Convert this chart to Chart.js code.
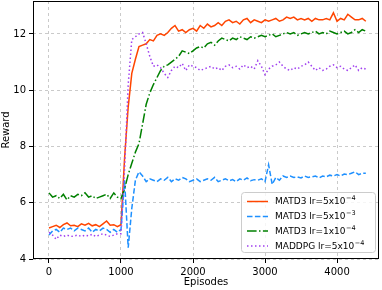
<!DOCTYPE html>
<html>
<head>
<meta charset="utf-8">
<script src="https://cdn.jsdelivr.net/npm/chart.js@4.4.0/dist/chart.umd.min.js"></script>
<style>
html,body{margin:0;padding:0;background:#fff;}
#wrap{width:382px;height:290px;position:relative;}
</style>
</head>
<body>
<div id="wrap"><canvas id="c" width="382" height="290"></canvas></div>
<script>
// Sampling grid: every 50 episodes from 0 to 4400
const episodes = [];
for (let e = 0; e <= 4400; e += 50) episodes.push(e);

const matd3_5e4 = [
5.10,5.15,5.20,5.12,5.22,5.28,5.18,5.20,5.15,5.25,
5.20,5.27,5.18,5.22,5.15,5.25,5.35,5.20,5.22,5.15,
5.22,7.60,9.40,10.60,11.10,11.55,11.60,11.65,11.80,11.75,
11.95,12.00,11.95,12.05,12.20,12.30,12.10,12.15,12.05,12.15,
12.20,12.10,12.30,12.20,12.35,12.25,12.30,12.40,12.30,12.45,
12.50,12.40,12.45,12.35,12.50,12.55,12.40,12.50,12.45,12.40,
12.50,12.45,12.50,12.55,12.45,12.50,12.60,12.55,12.60,12.50,
12.55,12.50,12.55,12.45,12.55,12.50,12.50,12.55,12.50,12.75,
12.45,12.55,12.50,12.70,12.60,12.50,12.50,12.55,12.45
];
const matd3_5e3 = [
4.85,5.00,5.05,4.95,5.10,5.05,5.10,5.00,5.10,5.05,
5.00,5.10,4.95,5.05,5.00,5.10,5.05,4.95,5.05,4.95,
5.05,6.80,4.40,5.80,6.80,7.10,6.95,6.75,6.85,6.80,
6.75,6.85,6.80,6.90,6.75,6.85,6.80,6.90,6.85,6.75,
6.80,6.85,6.75,6.80,6.85,6.80,6.90,6.75,6.80,6.85,
6.78,6.82,6.75,6.85,6.80,6.88,6.78,6.82,6.80,6.85,
6.75,7.35,6.65,6.90,6.80,6.95,6.90,6.95,6.90,6.92,
6.88,6.95,6.90,6.92,6.95,6.88,6.95,6.92,6.98,6.95,
7.00,6.95,7.02,7.00,7.05,7.10,7.00,7.05,7.05
];
const matd3_1e4 = [
6.35,6.20,6.25,6.15,6.30,6.10,6.25,6.20,6.30,6.25,
6.35,6.20,6.25,6.15,6.20,6.25,6.30,6.15,6.35,6.20,
6.15,6.50,7.00,7.40,7.80,8.10,8.80,9.50,9.90,10.20,
10.45,10.70,10.85,10.90,11.00,11.10,11.20,11.40,11.35,11.30,
11.40,11.50,11.55,11.50,11.65,11.70,11.60,11.75,11.85,11.80,
11.75,11.85,11.80,11.90,11.85,11.80,11.90,11.85,11.90,11.95,
11.90,11.95,12.00,11.90,11.95,12.00,12.05,12.00,12.05,11.95,
12.00,12.05,12.00,12.05,12.10,12.00,12.05,12.00,12.10,12.05,
12.00,12.05,12.10,12.00,12.05,12.15,12.05,12.15,12.10
];
const maddpg_5e4 = [
4.95,4.85,4.70,4.85,4.80,4.85,4.80,4.82,4.85,4.80,
4.85,4.82,4.88,4.80,4.85,4.90,4.85,4.80,4.85,4.90,
4.90,7.20,10.20,11.80,11.90,12.00,12.05,11.65,11.20,10.85,
10.90,10.80,10.60,10.45,10.70,10.85,10.80,10.95,10.70,10.90,
10.85,10.80,10.70,10.75,10.80,10.85,10.75,10.80,10.70,10.85,
10.90,10.80,10.85,10.75,10.90,10.80,10.85,10.75,11.05,10.85,
10.55,10.75,10.85,10.90,11.00,10.85,10.75,10.70,10.80,10.75,
10.85,10.90,11.00,10.85,10.70,10.80,10.70,10.75,10.85,10.90,
10.80,10.85,10.75,10.70,10.80,10.90,10.70,10.80,10.75
];
const xTicks = [0, 1000, 2000, 3000, 4000];
const yTicks = [4, 6, 8, 10, 12];
const seriesNames = ['MATD3 lr=5x10', 'MATD3 lr=5x10', 'MATD3 lr=1x10', 'MADDPG lr=5x10'];
const seriesExp = ['\u22124', '\u22123', '\u22124', '\u22124'];

const colors = ['#ff4500', '#1e90ff', '#008000', '#a040f0'];
const dashes = [[], [5.5, 2.4], [9.6, 2.4, 1.5, 2.4], [1.5, 2.5]];
const allSeries = [matd3_5e4, matd3_5e3, matd3_1e4, maddpg_5e4];

const datasets = allSeries.map((s, k) => ({
  label: seriesNames[k] + seriesExp[k],
  data: s.map((v, i) => ({x: episodes[i], y: v})),
  borderColor: colors[k],
  backgroundColor: colors[k],
  borderWidth: 1.5,
  borderDash: dashes[k],
  pointRadius: 0,
  tension: 0,
  fill: false,
  order: 4 - k
}));
const FONT = 'DejaVu Sans';

const framePlugin = {
  id: 'frame',
  afterDraw(chart) {
    const {ctx, chartArea: a} = chart;
    ctx.save();
    ctx.strokeStyle = '#000';
    ctx.lineWidth = 1;
    ctx.setLineDash([]);
    ctx.strokeRect(Math.round(a.left) + 0.5, Math.round(a.top) + 0.5, Math.round(a.right - a.left) - 1, Math.round(a.bottom - a.top) - 1);
    // axis titles
    ctx.fillStyle = '#000';
    ctx.font = '10px "' + FONT + '"';
    ctx.textAlign = 'center';
    ctx.textBaseline = 'alphabetic';
    ctx.fillText('Episodes', (a.left + a.right) / 2, 285);
    ctx.save();
    ctx.translate(9, (a.top + a.bottom) / 2);
    ctx.rotate(-Math.PI / 2);
    ctx.fillText('Reward', 0, 0);
    ctx.restore();
    // legend
    const bx = 241.5, by = 192.5, bw = 134, bh = 60, r = 3;
    ctx.beginPath();
    ctx.moveTo(bx + r, by);
    ctx.lineTo(bx + bw - r, by);
    ctx.quadraticCurveTo(bx + bw, by, bx + bw, by + r);
    ctx.lineTo(bx + bw, by + bh - r);
    ctx.quadraticCurveTo(bx + bw, by + bh, bx + bw - r, by + bh);
    ctx.lineTo(bx + r, by + bh);
    ctx.quadraticCurveTo(bx, by + bh, bx, by + bh - r);
    ctx.lineTo(bx, by + r);
    ctx.quadraticCurveTo(bx, by, bx + r, by);
    ctx.closePath();
    ctx.fillStyle = 'rgba(255,255,255,0.8)';
    ctx.fill();
    ctx.strokeStyle = '#cccccc';
    ctx.lineWidth = 1;
    ctx.stroke();
    const rows = [201.5, 216.5, 231, 246];
    for (let k = 0; k < 4; k++) {
      const y = rows[k];
      ctx.beginPath();
      ctx.strokeStyle = colors[k];
      ctx.lineWidth = 1.5;
      ctx.setLineDash(dashes[k]);
      ctx.moveTo(247, y);
      ctx.lineTo(268, y);
      ctx.stroke();
      ctx.setLineDash([]);
      ctx.fillStyle = '#000';
      ctx.textAlign = 'left';
      ctx.textBaseline = 'middle';
      ctx.font = '9px "' + FONT + '"';
      ctx.fillText(seriesNames[k], 275, y + 0.5);
      const w = ctx.measureText(seriesNames[k]).width;
      ctx.font = '6.5px "' + FONT + '"';
      ctx.fillText(seriesExp[k], 275 + w + 0.5, y - 3);
    }
    ctx.restore();
  }
};

new Chart(document.getElementById('c'), {
  type: 'line',
  data: {datasets},
  options: {
    responsive: false,
    animation: false,
    events: [],
    layout: {padding: {top: 1, right: 3, left: 0, bottom: 0}},
    plugins: {legend: {display: false}, tooltip: {enabled: false}},
    scales: {
      x: {
        type: 'linear',
        min: -222,
        max: 4583,
        afterBuildTicks(ax) { ax.ticks = xTicks.map(v => ({value: v})); },
        afterFit(ax) { ax.height = 31; ax.paddingLeft = 0; ax.paddingRight = 0; },
        ticks: {color: '#000', font: {family: FONT, size: 10}, padding: 3, maxRotation: 0, autoSkip: false, callback: v => String(v)},
        grid: {color: 'rgba(176,176,176,0.85)', lineWidth: 0.8, tickLength: 4, tickColor: '#000', tickWidth: 1, tickBorderDash: []},
        border: {display: false, dash: [3, 3]}
      },
      y: {
        type: 'linear',
        min: 4,
        max: 13.17,
        afterBuildTicks(ax) { ax.ticks = yTicks.map(v => ({value: v})); },
        afterFit(ax) { ax.width = 33; ax.paddingTop = 0; ax.paddingBottom = 0; },
        ticks: {color: '#000', font: {family: FONT, size: 10}, padding: 3, autoSkip: false, callback: v => String(v)},
        grid: {color: 'rgba(176,176,176,0.85)', lineWidth: 0.8, tickLength: 4, tickColor: '#000', tickWidth: 1, tickBorderDash: []},
        border: {display: false, dash: [3, 3]}
      }
    }
  },
  plugins: [framePlugin]
});
</script>
</body>
</html>
